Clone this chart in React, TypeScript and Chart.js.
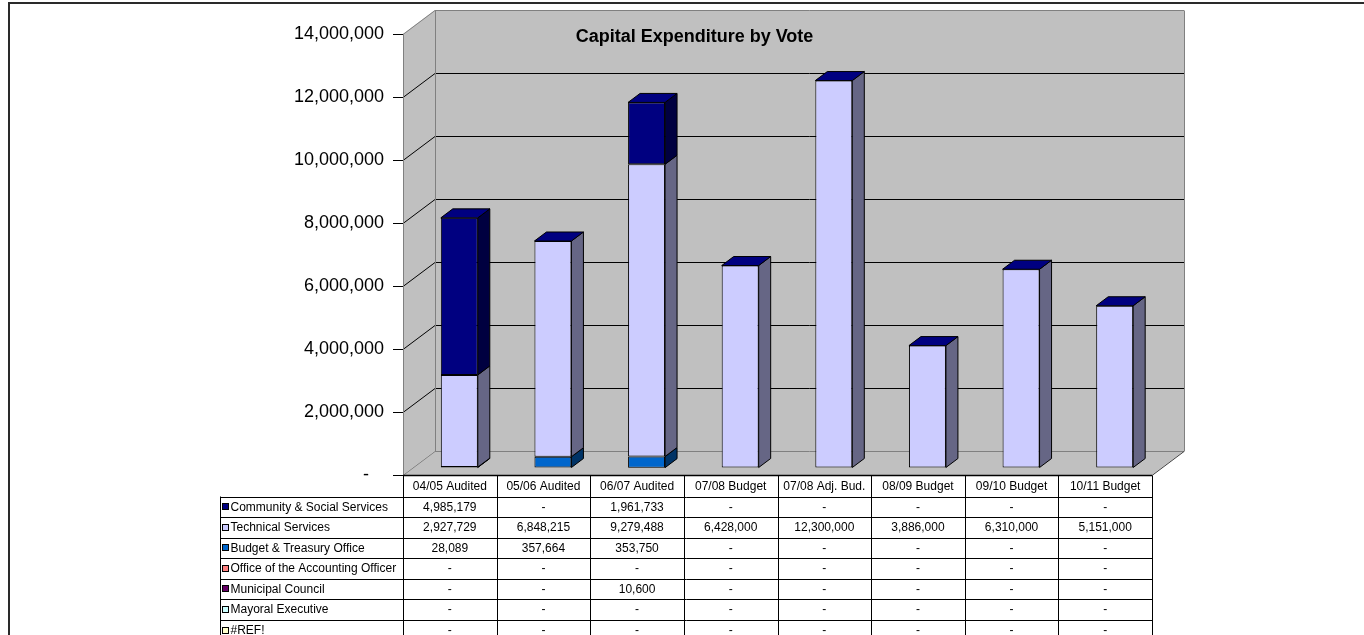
import React, { useEffect, useRef } from 'react';
import { Chart, registerables } from 'chart.js';

Chart.register(...registerables);

// ---------------- data ----------------
const chartTitle = 'Capital Expenditure by Vote';
const categories = [
  '04/05 Audited',
  '05/06 Audited',
  '06/07 Audited',
  '07/08 Budget',
  '07/08 Adj. Bud.',
  '08/09 Budget',
  '09/10 Budget',
  '10/11 Budget',
];
const seriesNames = [
  'Community & Social Services',
  'Technical Services',
  'Budget & Treasury Office',
  'Office of the Accounting Officer',
  'Municipal Council',
  'Mayoral Executive',
  '#REF!',
];
const communitySocial = [4985179, 0, 1961733, 0, 0, 0, 0, 0];
const technicalServices = [2927729, 6848215, 9279488, 6428000, 12300000, 3886000, 6310000, 5151000];
const budgetTreasury = [28089, 357664, 353750, 0, 0, 0, 0, 0];
const accountingOfficer = [0, 0, 0, 0, 0, 0, 0, 0];
const municipalCouncil = [0, 0, 10600, 0, 0, 0, 0, 0];
const mayoralExecutive = [0, 0, 0, 0, 0, 0, 0, 0];
const refError = [0, 0, 0, 0, 0, 0, 0, 0];
const seriesValues = [
  communitySocial,
  technicalServices,
  budgetTreasury,
  accountingOfficer,
  municipalCouncil,
  mayoralExecutive,
  refError,
];
const seriesColors = ['#000080', '#CCCCFF', '#0066CC', '#FF8080', '#660066', '#CCFFFF', '#FFFFCC'];
const sideColors = ['#000040', '#666685', '#003366', '#804040', '#330033', '#668080', '#808066'];
const yMin = 0;
const yMax = 14000000;
const yStep = 2000000;

// ---------------- style ----------------
const FONT = '"Liberation Sans", Arial, Helvetica, sans-serif';
const WALL_DX = 32;
const WALL_DY = -24;
const BAR_OX = 9.5;
const BAR_OY = -7;
const BAR_DX = 12;
const BAR_DY = -9;
const WALL_FILL = '#C0C0C0';
const EDGE = '#808080';

const fmt = (v: number) => (v === 0 ? '-' : v.toLocaleString('en-US'));

function poly(ctx: CanvasRenderingContext2D, pts: number[][], fill?: string, stroke?: string, lw = 1) {
  ctx.beginPath();
  ctx.moveTo(pts[0][0], pts[0][1]);
  for (let i = 1; i < pts.length; i++) ctx.lineTo(pts[i][0], pts[i][1]);
  ctx.closePath();
  if (fill) {
    ctx.fillStyle = fill;
    ctx.fill();
  }
  if (stroke) {
    ctx.strokeStyle = stroke;
    ctx.lineWidth = lw;
    ctx.stroke();
  }
}

function line(ctx: CanvasRenderingContext2D, x1: number, y1: number, x2: number, y2: number, color: string, lw = 1) {
  ctx.beginPath();
  ctx.moveTo(x1, y1);
  ctx.lineTo(x2, y2);
  ctx.strokeStyle = color;
  ctx.lineWidth = lw;
  ctx.stroke();
}

const excel3d = {
  id: 'excel3d',
  beforeDraw(chart: any) {
    const { ctx, chartArea: a, scales } = chart;
    const ys = scales.y;
    const L = a.left, R = a.right, T = a.top, B = a.bottom;
    ctx.save();
    ctx.fillStyle = '#FFFFFF';
    ctx.fillRect(0, 0, chart.width, chart.height);
    // outer frame
    ctx.fillStyle = '#2A2A2A';
    ctx.fillRect(8, 2, chart.width - 8, 2);
    ctx.fillRect(8, 2, 2, chart.height - 2);

    // back wall
    poly(ctx, [[L + WALL_DX, T + WALL_DY], [R + WALL_DX, T + WALL_DY], [R + WALL_DX, B + WALL_DY], [L + WALL_DX, B + WALL_DY]], WALL_FILL);
    // left side wall
    poly(ctx, [[L, T], [L + WALL_DX, T + WALL_DY], [L + WALL_DX, B + WALL_DY], [L, B]], WALL_FILL);
    // floor
    poly(ctx, [[L, B], [R, B], [R + WALL_DX, B + WALL_DY], [L + WALL_DX, B + WALL_DY]], WALL_FILL);

    // gridlines
    for (const t of ys.ticks) {
      const yy = Math.round(ys.getPixelForValue(t.value)) + 0.5;
      if (t.value > yMin && t.value < yMax) {
        line(ctx, L + WALL_DX, yy + WALL_DY, R + WALL_DX, yy + WALL_DY, '#000000');
        line(ctx, L, yy, L + WALL_DX, yy + WALL_DY, '#000000');
      }
    }
    // wall edges
    const tY = Math.round(T) + 0.5;
    const bY = Math.round(B) + 0.5;
    line(ctx, L, tY, L + WALL_DX, tY + WALL_DY, EDGE);
    line(ctx, L + WALL_DX, tY + WALL_DY, R + WALL_DX, tY + WALL_DY, EDGE);
    line(ctx, Math.round(L + WALL_DX) + 0.5, tY + WALL_DY, Math.round(L + WALL_DX) + 0.5, bY + WALL_DY, EDGE);
    line(ctx, Math.round(R + WALL_DX) + 0.5, tY + WALL_DY, Math.round(R + WALL_DX) + 0.5, bY + WALL_DY, EDGE);
    line(ctx, L + WALL_DX, bY + WALL_DY, R + WALL_DX, bY + WALL_DY, EDGE);
    line(ctx, L, bY, L + WALL_DX, bY + WALL_DY, EDGE);
    line(ctx, R, bY, R + WALL_DX, bY + WALL_DY, '#404040');
    ctx.restore();
  },
  beforeDatasetsDraw(chart: any) {
    chart.ctx.save();
    chart.ctx.translate(BAR_OX, BAR_OY);
  },
  afterDatasetsDraw(chart: any) {
    const ctx = chart.ctx;
    const n = chart.data.datasets.length;
    for (let d = 0; d < n; d++) {
      const meta = chart.getDatasetMeta(d);
      const ds: any = chart.data.datasets[d];
      meta.data.forEach((el: any) => {
        const p = el.getProps(['x', 'y', 'base', 'width'], true);
        const xl = p.x - p.width / 2;
        const xr = p.x + p.width / 2;
        const top = Math.min(p.y, p.base);
        const bot = Math.max(p.y, p.base);
        if (bot - top > 0.2) {
          poly(ctx, [[xr, top], [xr + BAR_DX, top + BAR_DY], [xr + BAR_DX, bot + BAR_DY], [xr, bot]], ds.sideColor, '#000000', 1);
        }
        if (d === n - 1) {
          poly(ctx, [[xl, top], [xl + BAR_DX, top + BAR_DY], [xr + BAR_DX, top + BAR_DY], [xr, top]], ds.backgroundColor, '#000000', 1);
        }
      });
    }
    ctx.restore();
  },
  afterDraw(chart: any) {
    const { ctx, chartArea: a, scales } = chart;
    const xs = scales.x;
    const L = a.left, R = a.right, B = a.bottom;
    const nCat = categories.length;
    const colW = (R - L) / nCat;
    const headerTop = Math.round(B) + 0.5;
    const headerBot = headerTop + 21;
    const rowH = 20.55;
    const legendLeft = 220.5;
    const nRows = seriesNames.length;
    const tableBottom = headerBot + nRows * rowH;
    ctx.save();
    // title
    ctx.fillStyle = '#000';
    ctx.font = `bold 18px ${FONT}`;
    ctx.textAlign = 'center';
    ctx.textBaseline = 'alphabetic';
    ctx.fillText(chartTitle, 694.5, 42);

    // table lines
    for (let k = 0; k <= nRows; k++) {
      const yy = Math.round(headerBot + k * rowH) + 0.5;
      line(ctx, legendLeft, yy, R, yy, '#000');
    }
    for (let i = 0; i <= nCat; i++) {
      const xx = Math.round(L + i * colW) + 0.5;
      line(ctx, xx, headerTop, xx, tableBottom, '#000');
    }
    line(ctx, legendLeft, headerBot, legendLeft, tableBottom, '#000');
    // floor front edge / axis line
    line(ctx, L, headerTop, R, headerTop, '#000', 1.6);

    // header text
    ctx.font = `12px ${FONT}`;
    ctx.textBaseline = 'middle';
    ctx.textAlign = 'center';
    categories.forEach((c, i) => {
      ctx.fillText(c, xs.getPixelForValue(i), (headerTop + headerBot) / 2 + 0.5);
    });
    // rows
    seriesNames.forEach((name, k) => {
      const cy = headerBot + (k + 0.5) * rowH + 0.5;
      const sy = Math.round(cy - 4);
      ctx.fillStyle = seriesColors[k];
      ctx.fillRect(222, sy, 7, 7);
      ctx.strokeStyle = '#000';
      ctx.lineWidth = 1;
      ctx.strokeRect(222.5, sy + 0.5, 6, 6);
      ctx.fillStyle = '#000';
      ctx.textAlign = 'left';
      ctx.fillText(name, 230.5, cy);
      ctx.textAlign = 'center';
      seriesValues[k].forEach((v, i) => {
        ctx.fillText(fmt(v), xs.getPixelForValue(i), cy);
      });
    });
    ctx.restore();
  },
};

export default function App() {
  const ref = useRef<HTMLCanvasElement | null>(null);
  useEffect(() => {
    if (!ref.current) return;
    const datasets = seriesNames
      .map((name, i) => ({
        label: name,
        data: seriesValues[i],
        backgroundColor: seriesColors[i],
        sideColor: sideColors[i],
        borderColor: '#000000',
        borderWidth: 1,
        borderSkipped: false,
        clip: false,
        stack: 'votes',
      }))
      .reverse();
    const chart = new Chart(ref.current, {
      type: 'bar',
      data: { labels: categories, datasets: datasets as any },
      plugins: [excel3d as any],
      options: {
        responsive: false,
        animation: false,
        devicePixelRatio: 1,
        layout: { padding: { left: 0, top: 34, right: 212, bottom: 160 } },
        datasets: { bar: { categoryPercentage: 1, barPercentage: 0.395 } },
        plugins: {
          legend: { display: false },
          tooltip: { enabled: false },
          title: { display: false },
        },
        scales: {
          x: { type: 'category', stacked: true, display: false, offset: true },
          y: {
            stacked: true,
            min: yMin,
            max: yMax,
            ticks: {
              stepSize: yStep,
              padding: 9,
              color: '#000',
              font: { family: FONT, size: 18 },
              callback: (v: any) => (Number(v) === 0 ? '-   ' : Number(v).toLocaleString('en-US')),
            },
            grid: { drawOnChartArea: false, color: '#000', tickLength: 10, lineWidth: 1 },
            border: { color: EDGE, width: 1 },
            afterFit: (s: any) => {
              s.width = 403;
            },
          },
        },
      } as any,
    });
    return () => chart.destroy();
  }, []);
  return (
    <div style={{ position: 'absolute', left: 0, top: 0, width: 1364, height: 635, overflow: 'hidden' }}>
      <canvas ref={ref} width={1364} height={635} style={{ display: 'block' }} />
    </div>
  );
}
